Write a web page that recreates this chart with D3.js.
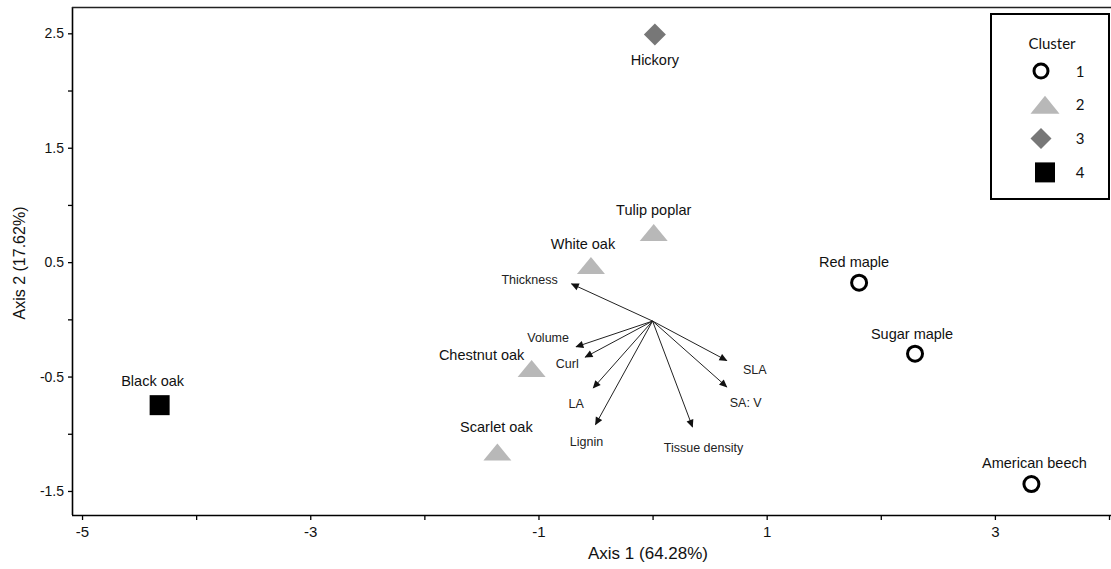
<!DOCTYPE html>
<html>
<head>
<meta charset="utf-8">
<script src="https://cdn.jsdelivr.net/npm/d3@7/dist/d3.min.js"></script>
<style>
  html, body { margin: 0; padding: 0; background: #fff; }
  svg { display: block; }
  text { font-family: "Liberation Sans", Arial, sans-serif; fill: #111; }
</style>
</head>
<body>
<svg id="chart" width="1111" height="569"></svg>
<script>
// Ordination scores of the tree species (PCA, axes 1 and 2)
const species  = ["Hickory", "Tulip poplar", "White oak", "Chestnut oak", "Scarlet oak",
                  "Black oak", "Red maple", "Sugar maple", "American beech"];
const axis1    = [0.02, 0.01, -0.54, -1.06, -1.36, -4.32, 1.81, 2.30, 3.32];
const axis2    = [2.49, 0.76, 0.47, -0.43, -1.16, -0.75, 0.32, -0.30, -1.44];
const cluster  = [3, 2, 2, 2, 2, 4, 1, 1, 1];

// Leaf-trait loading vectors
const traits   = ["Thickness", "Volume", "Curl", "LA", "Lignin", "Tissue density", "SA: V", "SLA"];
const load1    = [-0.71, -0.67, -0.59, -0.52, -0.50, 0.35, 0.65, 0.65];
const load2    = [0.31, -0.24, -0.33, -0.60, -0.92, -0.94, -0.59, -0.36];
const vecOrigin = [0.0, -0.015];

// Axis ticks
const xTicks = [-5, -4, -3, -2, -1, 0, 1, 2, 3, 4];
const xTickLabels = ["-5", "", "-3", "", "-1", "", "1", "", "3", ""];
const yTicks = [-1.5, -1, -0.5, 0, 0.5, 1, 1.5, 2, 2.5];
const yTickLabels = ["-1.5", "", "-0.5", "", "0.5", "", "1.5", "", "2.5"];

const clusters = [1, 2, 3, 4];

// ---- layout ----
const svg = d3.select("#chart");
const L = 72, R = 1109, T = 7, B = 515;

const x = d3.scaleLinear().domain([-5.088, 4.0]).range([L, R]);
const y = d3.scaleLinear().domain([-1.71, 2.73]).range([B, T]);

// species label offsets (px) relative to the marker
const speciesLabelOffset = {
  "Hickory": [0, 31], "Tulip poplar": [0, -17], "White oak": [-8, -17],
  "Chestnut oak": [-50, -9], "Scarlet oak": [-1, -20], "Black oak": [-7, -19],
  "Red maple": [-5, -16], "Sugar maple": [-3, -15], "American beech": [3, -16]
};
// trait label offsets (px) relative to the arrow tip
const traitLabelOffset = {
  "Thickness": [-42, 0], "Volume": [-28, -5], "Curl": [-18, 11], "LA": [-17, 20],
  "Lignin": [-9, 21], "Tissue density": [11, 25], "SA: V": [19, 20], "SLA": [28, 13]
};

// marker shapes per cluster
function markerPath(c, size) {
  const p = d3.path();
  if (c === 1) {
    const r = size.r; p.moveTo(r, 0); p.arc(0, 0, r, 0, 2 * Math.PI);
  } else if (c === 2) {
    const w = size.tw / 2, h = size.th / 2;
    p.moveTo(0, -h); p.lineTo(w, h); p.lineTo(-w, h); p.closePath();
  } else if (c === 3) {
    const d = size.d / 2;
    p.moveTo(0, -d); p.lineTo(d, 0); p.lineTo(0, d); p.lineTo(-d, 0); p.closePath();
  } else {
    const s = size.s / 2;
    p.rect(-s, -s, 2 * s, 2 * s);
  }
  return p.toString();
}
const markerStyle = {
  1: { fill: "none", stroke: "#000", "stroke-width": 3 },
  2: { fill: "#b8b8b8", stroke: "none", "stroke-width": 0 },
  3: { fill: "#777777", stroke: "none", "stroke-width": 0 },
  4: { fill: "#000", stroke: "none", "stroke-width": 0 }
};
const plotSize = { r: 7.5, tw: 28, th: 17, d: 22, s: 20 };

// ---- axes ----
const xAxis = d3.axisBottom(x).tickValues(xTicks)
  .tickFormat((d, i) => xTickLabels[i]).tickSize(5).tickSizeOuter(0);
const gx = svg.append("g").attr("transform", `translate(0,${B})`).call(xAxis);
gx.select(".domain").attr("stroke", "#000").attr("stroke-width", 1.6)
  .attr("d", `M${L},0.5H${R + 2}`);
gx.selectAll(".tick line").attr("stroke", "#000").attr("stroke-width", 1.3);
gx.selectAll(".tick text").attr("y", 11).attr("dy", "0.71em")
  .style("font-size", "15px").style("font-family", "'Liberation Sans Narrow','Liberation Sans',Arial,sans-serif");

const yAxis = d3.axisLeft(y).tickValues(yTicks)
  .tickFormat((d, i) => yTickLabels[i]).tickSize(4).tickSizeOuter(0);
const gy = svg.append("g").attr("transform", `translate(${L},0)`).call(yAxis);
gy.select(".domain").attr("stroke", "#000").attr("stroke-width", 1.6)
  .attr("d", `M0.5,${T}V${B}`);
gy.selectAll(".tick line").attr("stroke", "#000").attr("stroke-width", 1.3);
gy.selectAll(".tick text").attr("x", -8).style("font-size", "14px");

// top border
svg.append("line").attr("x1", L).attr("x2", 1111).attr("y1", T + 0.5).attr("y2", T + 0.5)
  .attr("stroke", "#222").attr("stroke-width", 1.4);

// axis titles
svg.append("text").attr("x", 648).attr("y", 559).attr("text-anchor", "middle")
  .style("font-size", "17px")
  .style("font-family", "'Liberation Sans Narrow','Liberation Sans',Arial,sans-serif")
  .text("Axis 1 (64.28%)");
svg.append("text").attr("transform", "translate(25,263) rotate(-90)")
  .attr("text-anchor", "middle").style("font-size", "16px")
  .text("Axis 2 (17.62%)");

// ---- trait vectors ----
svg.append("defs").append("marker")
  .attr("id", "head").attr("viewBox", "0 0 10 10").attr("refX", 9).attr("refY", 5)
  .attr("markerUnits", "userSpaceOnUse").attr("markerWidth", 9).attr("markerHeight", 8)
  .attr("orient", "auto")
  .append("path").attr("d", "M0,0.5L10,5L0,9.5Z").attr("fill", "#111");

const vecs = traits.map((t, i) => ({ t, x: load1[i], y: load2[i] }));
const gv = svg.append("g");
gv.selectAll("line").data(vecs).join("line")
  .attr("x1", x(vecOrigin[0])).attr("y1", y(vecOrigin[1]))
  .attr("x2", d => x(d.x)).attr("y2", d => y(d.y))
  .attr("stroke", "#222").attr("stroke-width", 1)
  .attr("marker-end", "url(#head)");
gv.selectAll("text").data(vecs).join("text")
  .attr("x", d => x(d.x) + traitLabelOffset[d.t][0])
  .attr("y", d => y(d.y) + traitLabelOffset[d.t][1])
  .attr("text-anchor", "middle").style("font-size", "12.5px").style("fill", "#222")
  .text(d => d.t);

// ---- species points ----
const pts = species.map((s, i) => ({ s, x: axis1[i], y: axis2[i], c: cluster[i] }));
const gp = svg.append("g");
gp.selectAll("path").data(pts).join("path")
  .attr("transform", d => `translate(${x(d.x)},${y(d.y)})`)
  .attr("d", d => markerPath(d.c, plotSize))
  .each(function (d) {
    const st = markerStyle[d.c];
    d3.select(this).attr("fill", st.fill).attr("stroke", st.stroke).attr("stroke-width", st["stroke-width"]);
  });
gp.selectAll("text").data(pts).join("text")
  .attr("x", d => x(d.x) + speciesLabelOffset[d.s][0])
  .attr("y", d => y(d.y) + speciesLabelOffset[d.s][1])
  .attr("text-anchor", "middle").style("font-size", "14.5px")
  .text(d => d.s);

// ---- legend ----
const lg = svg.append("g");
lg.append("rect").attr("x", 991).attr("y", 14).attr("width", 118).attr("height", 185)
  .attr("fill", "#fff").attr("stroke", "#000").attr("stroke-width", 2);
lg.append("text").attr("x", 1052).attr("y", 49).attr("text-anchor", "middle")
  .style("font-family", "Lato, 'Open Sans', sans-serif").style("font-size", "15px")
  .text("Cluster");
const legendSize = { r: 7, tw: 29, th: 18, d: 21, s: 20 };
const rows = lg.selectAll("g.row").data(clusters).join("g").attr("class", "row")
  .attr("transform", (d, i) => `translate(0,${71 + i * 33.8})`);
rows.append("path")
  .attr("transform", d => `translate(${d === 1 ? 1041 : d === 3 ? 1041 : 1045},0)`)
  .attr("d", d => markerPath(d, legendSize))
  .each(function (d) {
    const st = markerStyle[d];
    d3.select(this).attr("fill", st.fill).attr("stroke", st.stroke).attr("stroke-width", st["stroke-width"]);
  });
rows.append("text").attr("x", 1080).attr("y", 5.5).attr("text-anchor", "middle")
  .style("font-family", "Lato, 'Open Sans', sans-serif").style("font-size", "15px")
  .text(d => d);
</script>
</body>
</html>
